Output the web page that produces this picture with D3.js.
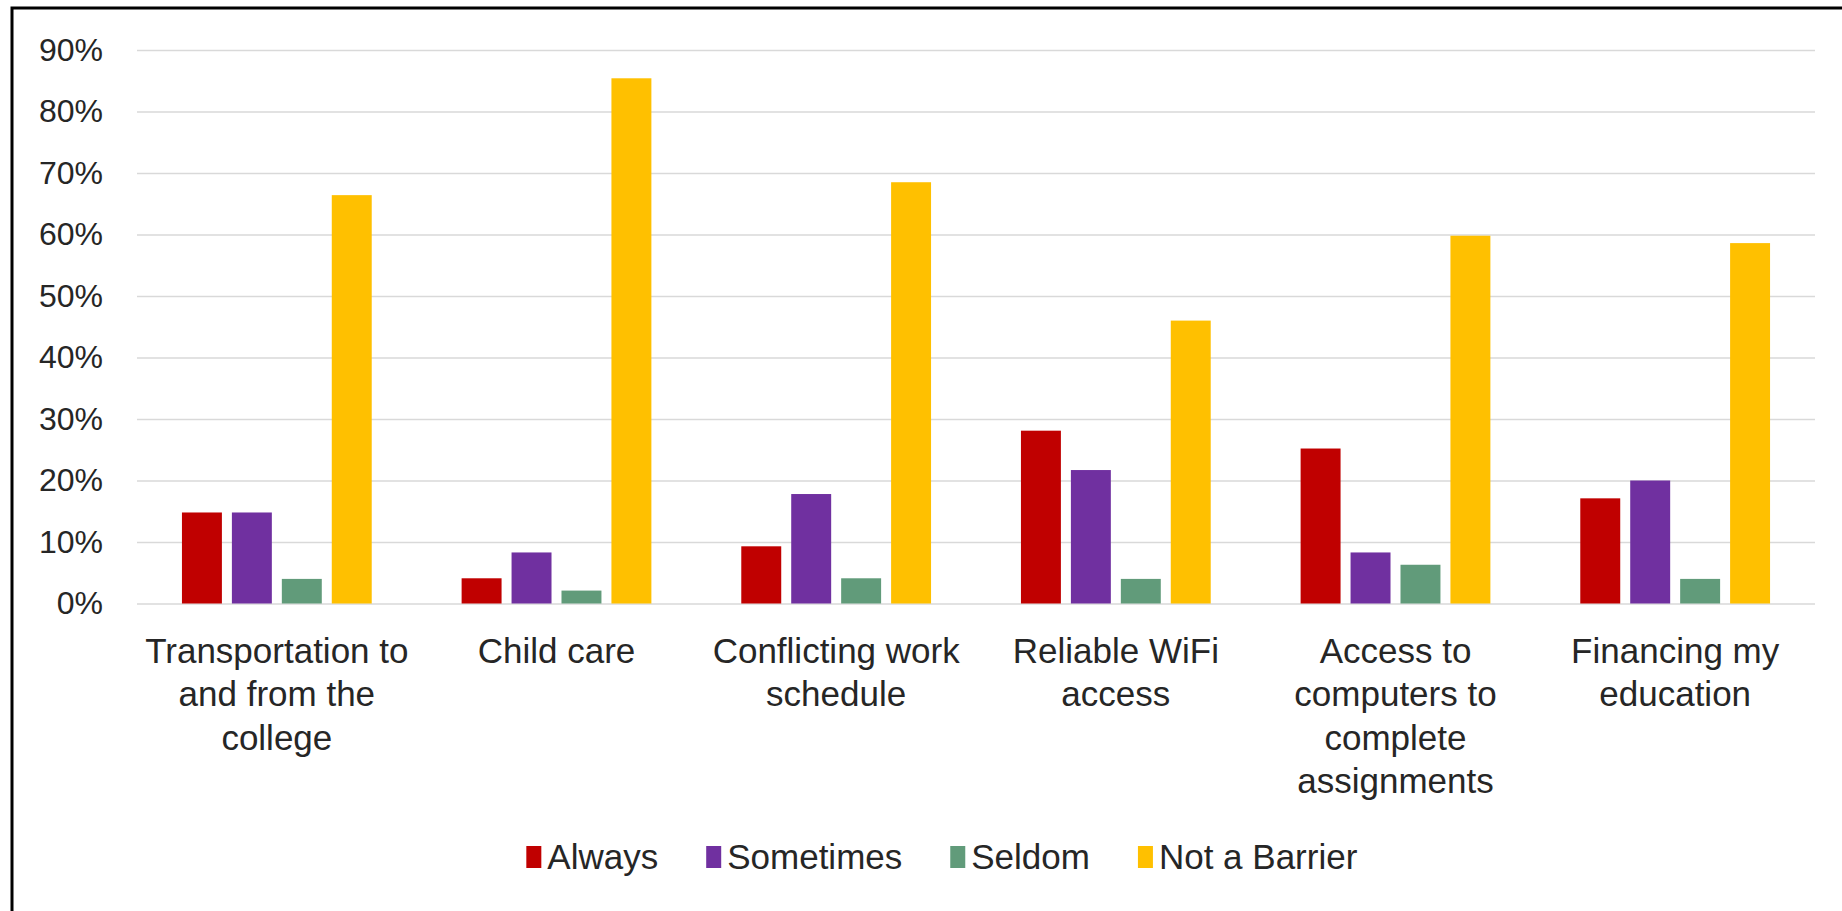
<!DOCTYPE html>
<html>
<head>
<meta charset="utf-8">
<script src="https://cdn.jsdelivr.net/npm/d3@7"></script>
<style>
  html, body { margin: 0; padding: 0; background: #fff; }
  svg { display: block; }
  text { font-family: "Liberation Sans", Arial, sans-serif; fill: #262626; }
</style>
</head>
<body>
<svg id="chart" width="1842" height="911"></svg>
<script>
// ---- data ----
const categories = [
  "Transportation to and from the college",
  "Child care",
  "Conflicting work schedule",
  "Reliable WiFi access",
  "Access to computers to complete assignments",
  "Financing my education"
];
const seriesNames = ["Always", "Sometimes", "Seldom", "Not a Barrier"];
const always     = [14.8, 4.1, 9.3, 28.1, 25.2, 17.1];
const sometimes  = [14.8, 8.3, 17.8, 21.7, 8.3, 20.0];
const seldom     = [4.0, 2.1, 4.1, 4.0, 6.3, 4.0];
const notBarrier = [66.4, 85.4, 68.5, 46.0, 59.8, 58.6];
const yTicks = [0, 10, 20, 30, 40, 50, 60, 70, 80, 90];
const colors = ["#C00000", "#7030A0", "#619B7A", "#FFC000"];

const seriesValues = [always, sometimes, seldom, notBarrier];
const rows = categories.map((c, i) => ({
  category: c,
  values: seriesNames.map((s, j) => ({ series: s, value: seriesValues[j][i], color: colors[j] }))
}));

// ---- layout ----
const svg = d3.select("#chart");
const plotLeft = 137, plotRight = 1815, plotTop = 50, plotBottom = 603.5;

// frame
svg.append("rect")
  .attr("x", 12).attr("y", 8)
  .attr("width", 1900).attr("height", 1000)
  .attr("fill", "none").attr("stroke", "#000").attr("stroke-width", 3);

const y = d3.scaleLinear().domain([0, 90]).range([plotBottom, plotTop]);
const x0 = d3.scaleBand().domain(categories).range([plotLeft, plotRight]).padding(0);
const x1 = d3.scaleBand().domain(seriesNames).range([0, x0.bandwidth()])
  .paddingInner(0.2).paddingOuter(0.9);

// y axis with gridlines
const yAxis = svg.append("g")
  .attr("transform", `translate(${plotLeft},0)`)
  .call(d3.axisLeft(y).tickValues(yTicks).tickFormat(d => d + "%")
    .tickSize(-(plotRight - plotLeft)).tickPadding(34));
yAxis.select(".domain").remove();
yAxis.selectAll(".tick line").attr("stroke", "#d9d9d9").attr("stroke-width", 1.5);
yAxis.selectAll(".tick text")
  .attr("font-size", 32).attr("fill", "#262626")
  .style("font-family", "'Liberation Sans', Arial, sans-serif");

// bars
const groups = svg.append("g").selectAll("g")
  .data(rows).join("g")
  .attr("transform", d => `translate(${x0(d.category)},0)`);
groups.selectAll("rect")
  .data(d => d.values).join("rect")
  .attr("x", d => x1(d.series))
  .attr("width", x1.bandwidth())
  .attr("y", d => y(d.value))
  .attr("height", d => y(0) - y(d.value))
  .attr("fill", d => d.color);

// x axis category labels (wrapped)
const xAxis = svg.append("g")
  .attr("transform", `translate(0,${plotBottom})`)
  .call(d3.axisBottom(x0).tickSize(0).tickPadding(0));
xAxis.select(".domain").remove();
const lineH = 43.5;
xAxis.selectAll(".tick text")
  .attr("font-size", 35).attr("fill", "#262626")
  .style("font-family", "'Liberation Sans', Arial, sans-serif")
  .each(function(d) {
    const t = d3.select(this);
    const words = d.split(/\s+/);
    const maxW = x0.bandwidth() - 4;
    t.text(null).attr("y", 0).attr("dy", null);
    let line = [];
    let tspan = t.append("tspan").attr("x", 0);
    words.forEach(w => {
      line.push(w);
      tspan.text(line.join(" "));
      if (tspan.node().getComputedTextLength() > maxW && line.length > 1) {
        line.pop();
        tspan.text(line.join(" "));
        line = [w];
        tspan = t.append("tspan").attr("x", 0).text(w);
      }
    });
    t.selectAll("tspan").attr("y", (_, i) => 59 + i * lineH);
  });

// legend
const legend = svg.append("g").attr("transform", "translate(0,857)");
const items = legend.selectAll("g").data(seriesNames).join("g");
items.append("rect")
  .attr("y", -11).attr("width", 15).attr("height", 22)
  .attr("fill", (d, i) => colors[i]);
items.append("text")
  .attr("x", 21).attr("dy", "0.35em")
  .attr("font-size", 35).text(d => d);
const gap = 48;
let cx = 0;
const positions = [];
items.each(function() {
  const w = this.getBBox().width;
  positions.push(cx);
  cx += w + gap;
});
const total = cx - gap;
const start = 942 - total / 2;
items.attr("transform", (d, i) => `translate(${start + positions[i]},0)`);
</script>
</body>
</html>
